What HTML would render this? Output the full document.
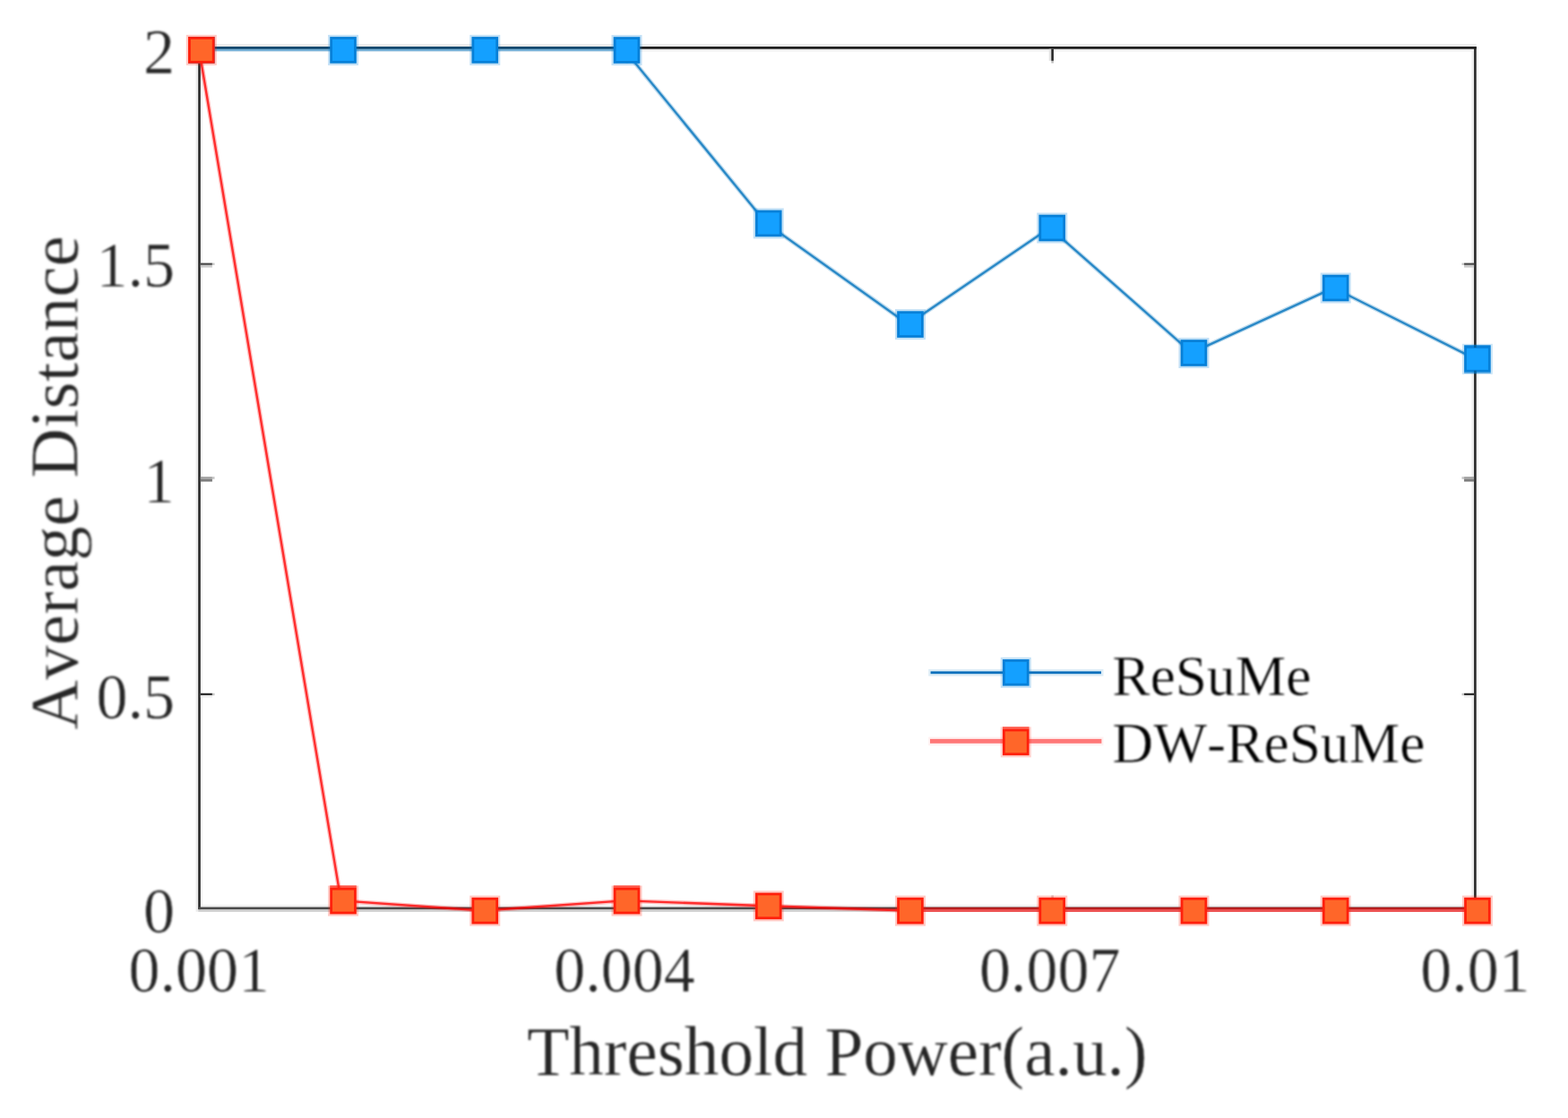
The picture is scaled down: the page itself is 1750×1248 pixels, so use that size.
<!DOCTYPE html>
<html lang="en">
<head>
<meta charset="utf-8">
<title>Average Distance vs Threshold Power</title>
<style>
html,body{margin:0;padding:0;background:#fff;}
body{width:1750px;height:1248px;overflow:hidden;position:relative;}
svg{position:absolute;left:0;top:0;display:block;}
text{font-family:"Liberation Serif","DejaVu Serif",serif;font-kerning:none;}
.tk{font-size:70px;fill:#262626;stroke:#fff;stroke-width:0.5px;paint-order:fill stroke;}
.lb{font-size:77.2px;fill:#262626;stroke:#fff;stroke-width:0.35px;paint-order:fill stroke;}
.lg{font-size:63.5px;fill:#000;stroke:#fff;stroke-width:0.5px;paint-order:fill stroke;}
#xticks,#yticks,#labels{filter:blur(1px);}
#legtext{filter:blur(0.9px);}
</style>
</head>
<body>
<svg width="1750" height="1248" viewBox="0 0 1750 1248">
<rect x="0" y="0" width="1750" height="1248" fill="#ffffff"/>
<g id="axes">
<rect x="218.60" y="52.00" width="2.60" height="965.70" fill="#ebebeb"/>
<rect x="223.80" y="54.75" width="2.20" height="957.75" fill="#f3f3f3"/>
<rect x="1642.50" y="54.75" width="2.60" height="957.75" fill="#ebebeb"/>
<rect x="1647.70" y="52.00" width="2.00" height="963.10" fill="#f4f4f4"/>
<rect x="221.20" y="49.30" width="1426.50" height="2.70" fill="#e9e9e9"/>
<rect x="223.80" y="54.75" width="1421.30" height="2.70" fill="#efefef"/>
<rect x="223.80" y="1009.90" width="1421.30" height="2.60" fill="#f2f2f2"/>
<rect x="221.20" y="1015.10" width="1426.50" height="2.70" fill="#cdcdcd"/>
<rect x="221.20" y="52.00" width="2.60" height="963.10" fill="#262626"/>
<rect x="1645.10" y="52.00" width="2.60" height="963.10" fill="#262626"/>
<rect x="221.20" y="52.00" width="1426.50" height="2.75" fill="#1e1e1e"/>
<rect x="221.20" y="1012.50" width="1426.50" height="2.60" fill="#4a4a4a"/>
<rect x="223.80" y="293.60" width="13.10" height="2.25" fill="#464646"/>
<rect x="223.80" y="295.85" width="13.10" height="2.75" fill="#c8c8c8"/>
<rect x="236.90" y="293.60" width="2.60" height="2.25" fill="#c4c4c4"/>
<rect x="1634.05" y="293.60" width="11.05" height="2.25" fill="#464646"/>
<rect x="1634.05" y="295.85" width="11.05" height="2.75" fill="#c8c8c8"/>
<rect x="1631.50" y="293.60" width="2.55" height="2.25" fill="#c4c4c4"/>
<rect x="223.80" y="532.20" width="13.10" height="2.60" fill="#a0a0a0"/>
<rect x="223.80" y="534.80" width="13.10" height="2.80" fill="#7d7d7d"/>
<rect x="236.90" y="532.20" width="2.60" height="2.60" fill="#c4c4c4"/>
<rect x="1634.05" y="532.20" width="11.05" height="2.60" fill="#a0a0a0"/>
<rect x="1634.05" y="534.80" width="11.05" height="2.80" fill="#7d7d7d"/>
<rect x="1631.50" y="532.20" width="2.55" height="2.60" fill="#c4c4c4"/>
<rect x="223.80" y="773.80" width="13.10" height="2.50" fill="#2d2d2d"/>
<rect x="223.80" y="776.30" width="13.10" height="2.30" fill="#ededed"/>
<rect x="236.90" y="773.80" width="2.60" height="2.50" fill="#c4c4c4"/>
<rect x="1634.05" y="773.80" width="11.05" height="2.50" fill="#2d2d2d"/>
<rect x="1634.05" y="776.30" width="11.05" height="2.30" fill="#ededed"/>
<rect x="1631.50" y="773.80" width="2.55" height="2.50" fill="#c4c4c4"/>
<rect x="696.01" y="54.75" width="2.60" height="13.15" fill="#e3e3e3"/>
<rect x="698.61" y="54.75" width="2.60" height="13.15" fill="#282828"/>
<rect x="698.61" y="67.90" width="2.60" height="2.60" fill="#bebebe"/>
<rect x="698.61" y="999.30" width="2.60" height="2.60" fill="#ddd2d2"/>
<rect x="698.61" y="1001.90" width="2.60" height="10.60" fill="#282828"/>
<rect x="1170.71" y="54.75" width="2.60" height="13.15" fill="#e3e3e3"/>
<rect x="1173.31" y="54.75" width="2.60" height="13.15" fill="#282828"/>
<rect x="1173.31" y="67.90" width="2.60" height="2.60" fill="#bebebe"/>
<rect x="1173.31" y="999.30" width="2.60" height="2.60" fill="#ddd2d2"/>
<rect x="1173.31" y="1001.90" width="2.60" height="10.60" fill="#282828"/>
</g>
<g id="series-resume">
<line x1="222.30" y1="54.60" x2="380.54" y2="54.60" stroke="#0072BD" stroke-opacity="0.5" stroke-width="5.2"/>
<line x1="380.54" y1="54.60" x2="538.77" y2="54.60" stroke="#0072BD" stroke-opacity="0.5" stroke-width="5.2"/>
<line x1="538.77" y1="54.60" x2="697.01" y2="54.70" stroke="#0072BD" stroke-opacity="0.5" stroke-width="5.2"/>
<line x1="697.01" y1="55.80" x2="855.24" y2="249.20" stroke="#0072BD" stroke-opacity="0.25" stroke-width="5.0"/><line x1="697.01" y1="55.80" x2="855.24" y2="249.20" stroke="#0072BD" stroke-opacity="0.78" stroke-width="2.4"/>
<line x1="855.24" y1="249.20" x2="1013.48" y2="361.90" stroke="#0072BD" stroke-opacity="0.25" stroke-width="5.0"/><line x1="855.24" y1="249.20" x2="1013.48" y2="361.90" stroke="#0072BD" stroke-opacity="0.78" stroke-width="2.4"/>
<line x1="1013.48" y1="361.90" x2="1171.71" y2="254.30" stroke="#0072BD" stroke-opacity="0.25" stroke-width="5.0"/><line x1="1013.48" y1="361.90" x2="1171.71" y2="254.30" stroke="#0072BD" stroke-opacity="0.78" stroke-width="2.4"/>
<line x1="1171.71" y1="254.30" x2="1329.94" y2="393.80" stroke="#0072BD" stroke-opacity="0.25" stroke-width="5.0"/><line x1="1171.71" y1="254.30" x2="1329.94" y2="393.80" stroke="#0072BD" stroke-opacity="0.78" stroke-width="2.4"/>
<line x1="1329.94" y1="393.80" x2="1488.18" y2="321.30" stroke="#0072BD" stroke-opacity="0.25" stroke-width="5.0"/><line x1="1329.94" y1="393.80" x2="1488.18" y2="321.30" stroke="#0072BD" stroke-opacity="0.78" stroke-width="2.4"/>
<line x1="1488.18" y1="321.30" x2="1646.42" y2="400.60" stroke="#0072BD" stroke-opacity="0.25" stroke-width="5.0"/><line x1="1488.18" y1="321.30" x2="1646.42" y2="400.60" stroke="#0072BD" stroke-opacity="0.78" stroke-width="2.4"/>
<rect x="210.00" y="41.10" width="29.60" height="29.60" fill="#0780D8"/><rect x="212.80" y="43.90" width="24.00" height="24.00" fill="#14A0FF"/>
<rect x="366.04" y="38.90" width="34.00" height="34.00" fill="#0780D8" fill-opacity="0.24"/><rect x="368.24" y="41.10" width="29.60" height="29.60" fill="#0780D8"/><rect x="371.04" y="43.90" width="24.00" height="24.00" fill="#14A0FF"/>
<rect x="524.27" y="38.90" width="34.00" height="34.00" fill="#0780D8" fill-opacity="0.24"/><rect x="526.47" y="41.10" width="29.60" height="29.60" fill="#0780D8"/><rect x="529.27" y="43.90" width="24.00" height="24.00" fill="#14A0FF"/>
<rect x="682.51" y="39.00" width="34.00" height="34.00" fill="#0780D8" fill-opacity="0.24"/><rect x="684.71" y="41.20" width="29.60" height="29.60" fill="#0780D8"/><rect x="687.51" y="44.00" width="24.00" height="24.00" fill="#14A0FF"/>
<rect x="840.74" y="232.40" width="34.00" height="34.00" fill="#0780D8" fill-opacity="0.24"/><rect x="842.94" y="234.60" width="29.60" height="29.60" fill="#0780D8"/><rect x="845.74" y="237.40" width="24.00" height="24.00" fill="#14A0FF"/>
<rect x="998.98" y="345.10" width="34.00" height="34.00" fill="#0780D8" fill-opacity="0.24"/><rect x="1001.18" y="347.30" width="29.60" height="29.60" fill="#0780D8"/><rect x="1003.98" y="350.10" width="24.00" height="24.00" fill="#14A0FF"/>
<rect x="1157.21" y="237.50" width="34.00" height="34.00" fill="#0780D8" fill-opacity="0.24"/><rect x="1159.41" y="239.70" width="29.60" height="29.60" fill="#0780D8"/><rect x="1162.21" y="242.50" width="24.00" height="24.00" fill="#14A0FF"/>
<rect x="1315.44" y="377.00" width="34.00" height="34.00" fill="#0780D8" fill-opacity="0.24"/><rect x="1317.64" y="379.20" width="29.60" height="29.60" fill="#0780D8"/><rect x="1320.44" y="382.00" width="24.00" height="24.00" fill="#14A0FF"/>
<rect x="1473.68" y="304.50" width="34.00" height="34.00" fill="#0780D8" fill-opacity="0.24"/><rect x="1475.88" y="306.70" width="29.60" height="29.60" fill="#0780D8"/><rect x="1478.68" y="309.50" width="24.00" height="24.00" fill="#14A0FF"/>
<rect x="1631.92" y="383.80" width="34.00" height="34.00" fill="#0780D8" fill-opacity="0.2"/><rect x="1634.12" y="385.00" width="29.60" height="1.00" fill="#0780D8" fill-opacity="0.7"/><rect x="1634.12" y="415.60" width="29.60" height="1.10" fill="#0780D8" fill-opacity="0.7"/><rect x="1634.12" y="386.00" width="29.60" height="29.60" fill="#0780D8"/><rect x="1636.92" y="388.80" width="24.00" height="24.00" fill="#14A0FF"/>
<rect x="1645.10" y="385.00" width="2.60" height="3.00" fill="#04609f"/>
<rect x="1645.10" y="413.70" width="2.60" height="3.00" fill="#04609f"/>
</g>
<g id="series-dwresume">
<line x1="222.30" y1="55.70" x2="380.54" y2="1005.40" stroke="#FF0000" stroke-opacity="0.25" stroke-width="5.0"/><line x1="222.30" y1="55.70" x2="380.54" y2="1005.40" stroke="#FF0000" stroke-opacity="0.76" stroke-width="2.4"/>
<line x1="380.54" y1="1005.40" x2="538.77" y2="1016.50" stroke="#FF0000" stroke-opacity="0.25" stroke-width="5.0"/><line x1="380.54" y1="1005.40" x2="538.77" y2="1016.50" stroke="#FF0000" stroke-opacity="0.76" stroke-width="2.4"/>
<line x1="538.77" y1="1016.50" x2="697.01" y2="1005.40" stroke="#FF0000" stroke-opacity="0.25" stroke-width="5.0"/><line x1="538.77" y1="1016.50" x2="697.01" y2="1005.40" stroke="#FF0000" stroke-opacity="0.76" stroke-width="2.4"/>
<line x1="697.01" y1="1005.40" x2="855.24" y2="1011.20" stroke="#FF0000" stroke-opacity="0.25" stroke-width="5.0"/><line x1="697.01" y1="1005.40" x2="855.24" y2="1011.20" stroke="#FF0000" stroke-opacity="0.76" stroke-width="2.4"/>
<line x1="855.24" y1="1011.20" x2="1013.48" y2="1016.50" stroke="#FF0000" stroke-opacity="0.25" stroke-width="5.0"/><line x1="855.24" y1="1011.20" x2="1013.48" y2="1016.50" stroke="#FF0000" stroke-opacity="0.76" stroke-width="2.4"/>
<line x1="1013.48" y1="1015.40" x2="1171.71" y2="1015.40" stroke="#FF0000" stroke-opacity="0.6" stroke-width="5.2"/>
<line x1="1171.71" y1="1015.40" x2="1329.94" y2="1015.40" stroke="#FF0000" stroke-opacity="0.6" stroke-width="5.2"/>
<line x1="1329.94" y1="1015.40" x2="1488.18" y2="1015.40" stroke="#FF0000" stroke-opacity="0.6" stroke-width="5.2"/>
<line x1="1488.18" y1="1015.40" x2="1646.42" y2="1015.40" stroke="#FF0000" stroke-opacity="0.6" stroke-width="5.2"/>
<rect x="207.80" y="38.90" width="34.00" height="34.00" fill="#FF200C" fill-opacity="0.24"/><rect x="210.00" y="41.10" width="29.60" height="29.60" fill="#FF200C"/><rect x="212.80" y="43.90" width="24.00" height="24.00" fill="#FF6629"/>
<rect x="366.04" y="988.60" width="34.00" height="34.00" fill="#FF200C" fill-opacity="0.24"/><rect x="368.24" y="988.40" width="29.60" height="2.40" fill="#FF200C" fill-opacity="0.7"/><rect x="368.24" y="990.80" width="29.60" height="29.60" fill="#FF200C"/><rect x="371.04" y="993.60" width="24.00" height="24.00" fill="#FF6629"/>
<rect x="524.27" y="999.70" width="34.00" height="34.00" fill="#FF200C" fill-opacity="0.24"/><rect x="526.47" y="1001.90" width="29.60" height="29.60" fill="#FF200C"/><rect x="529.27" y="1004.70" width="24.00" height="24.00" fill="#FF6629"/>
<rect x="682.51" y="988.60" width="34.00" height="34.00" fill="#FF200C" fill-opacity="0.24"/><rect x="684.71" y="988.40" width="29.60" height="2.40" fill="#FF200C" fill-opacity="0.7"/><rect x="684.71" y="990.80" width="29.60" height="29.60" fill="#FF200C"/><rect x="687.51" y="993.60" width="24.00" height="24.00" fill="#FF6629"/>
<rect x="840.74" y="994.40" width="34.00" height="34.00" fill="#FF200C" fill-opacity="0.24"/><rect x="842.94" y="996.60" width="29.60" height="29.60" fill="#FF200C"/><rect x="845.74" y="999.40" width="24.00" height="24.00" fill="#FF6629"/>
<rect x="998.98" y="999.70" width="34.00" height="34.00" fill="#FF200C" fill-opacity="0.24"/><rect x="1001.18" y="1001.90" width="29.60" height="29.60" fill="#FF200C"/><rect x="1003.98" y="1004.70" width="24.00" height="24.00" fill="#FF6629"/>
<rect x="1157.21" y="999.70" width="34.00" height="34.00" fill="#FF200C" fill-opacity="0.24"/><rect x="1159.41" y="1001.90" width="29.60" height="29.60" fill="#FF200C"/><rect x="1162.21" y="1004.70" width="24.00" height="24.00" fill="#FF6629"/>
<rect x="1315.44" y="999.70" width="34.00" height="34.00" fill="#FF200C" fill-opacity="0.24"/><rect x="1317.64" y="1001.90" width="29.60" height="29.60" fill="#FF200C"/><rect x="1320.44" y="1004.70" width="24.00" height="24.00" fill="#FF6629"/>
<rect x="1473.68" y="999.70" width="34.00" height="34.00" fill="#FF200C" fill-opacity="0.24"/><rect x="1475.88" y="1001.90" width="29.60" height="29.60" fill="#FF200C"/><rect x="1478.68" y="1004.70" width="24.00" height="24.00" fill="#FF6629"/>
<rect x="1631.92" y="999.70" width="34.00" height="34.00" fill="#FF200C" fill-opacity="0.24"/><rect x="1634.12" y="1001.90" width="29.60" height="29.60" fill="#FF200C"/><rect x="1636.92" y="1004.70" width="24.00" height="24.00" fill="#FF6629"/>
</g>
<g id="legend">
<rect x="1036.20" y="746.90" width="195.30" height="7.80" fill="#0072BD" fill-opacity="0.13"/>
<rect x="1038.60" y="749.40" width="190.40" height="2.80" fill="#0870BC"/>
<rect x="1116.80" y="733.80" width="34.00" height="34.00" fill="#0780D8" fill-opacity="0.24"/><rect x="1119.00" y="736.00" width="29.60" height="29.60" fill="#0780D8"/><rect x="1121.80" y="738.80" width="24.00" height="24.00" fill="#14A0FF"/>
<rect x="1036.20" y="822.60" width="195.30" height="9.60" fill="#FF0000" fill-opacity="0.06"/>
<rect x="1038.00" y="824.90" width="191.40" height="4.90" fill="#FF0000" fill-opacity="0.5"/>
<rect x="1116.80" y="811.40" width="34.00" height="34.00" fill="#FF200C" fill-opacity="0.2"/><rect x="1119.00" y="811.30" width="29.60" height="2.30" fill="#FF200C" fill-opacity="0.7"/><rect x="1119.00" y="813.60" width="29.60" height="29.60" fill="#FF200C"/><rect x="1121.80" y="816.40" width="24.00" height="24.00" fill="#FF6629"/>
<g id="legtext"><text class="lg" transform="translate(1241.3,775.5) scale(1,1.01)">ReSuMe</text>
<text class="lg" transform="translate(1241.3,850.7) scale(1,1.01)">DW-ReSuMe</text></g>
</g>
<g id="xticks" text-anchor="middle">
<text class="tk" transform="translate(222.30,1107.2) scale(1,1.04)">0.001</text>
<text class="tk" transform="translate(697.01,1107.2) scale(1,1.04)">0.004</text>
<text class="tk" transform="translate(1171.71,1107.2) scale(1,1.04)">0.007</text>
<text class="tk" transform="translate(1646.42,1107.2) scale(1,1.04)">0.01</text>
</g>
<g id="yticks" text-anchor="end">
<text class="tk" transform="translate(195,1040.90) scale(1,1.04)">0</text>
<text class="tk" transform="translate(195,801.50) scale(1,1.04)">0.5</text>
<text class="tk" transform="translate(195,561.20) scale(1,1.04)">1</text>
<text class="tk" transform="translate(195,320.10) scale(1,1.04)">1.5</text>
<text class="tk" transform="translate(195,81.50) scale(1,1.04)">2</text>
</g>
<g id="labels"><text class="lb" text-anchor="middle" transform="translate(934.3,1199.8)">Threshold Power(a.u.)</text>
<text class="lb" text-anchor="middle" transform="translate(86.4,538.9) rotate(-90)" style="font-size:77px;letter-spacing:0.14px">Average Distance</text></g>
</svg>
</body>
</html>
